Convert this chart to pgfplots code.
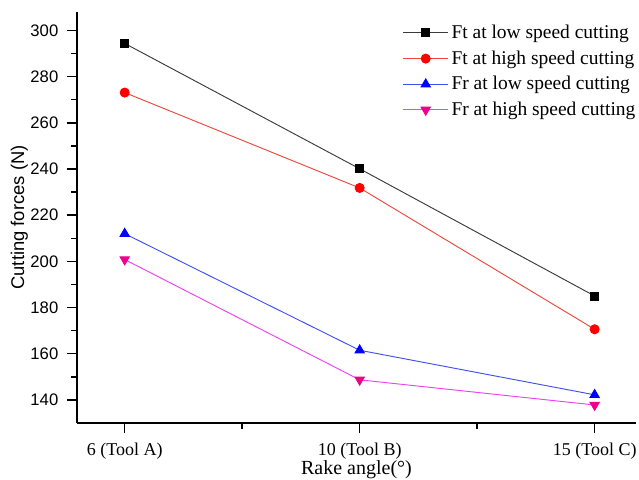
\documentclass[border=0pt]{standalone}
\usepackage{fontspec}
\setmainfont{Liberation Serif}
\newfontfamily\arial{Liberation Sans}
\usepackage{pgfplots}
\pgfplotsset{compat=1.18}

\definecolor{lnBlack}{HTML}{3A3A3A}
\definecolor{lnRed}{HTML}{F0463C}
\definecolor{lnBlue}{HTML}{4050F0}
\definecolor{lnMag}{HTML}{F040F0}

\begin{document}
\begin{tikzpicture}
\begin{axis}[
    scale only axis,
    width=419.25pt, height=308.25pt,
    xmin=-0.203, xmax=2.176,
    ymin=130, ymax=308,
    axis x line*=bottom, axis y line*=left,
    axis line style={line width=1.2pt, black},
    every tick/.style={line width=1.1pt, black},
    tick align=outside,
    major tick length=7.5pt, minor tick length=4.5pt,
    xtick={0,1,2},
    xticklabels={6 (Tool A),10 (Tool B),15 (Tool C)},
    minor x tick num=1,
    ytick={140,160,...,300},
    minor y tick num=1,
    /pgf/number format/assume math mode=true,
    xticklabel style={font=\fontsize{13.5}{15}\selectfont, yshift=-4pt},
    yticklabel style={font=\arial\fontsize{12.5}{14}\selectfont, xshift=-3pt},
    xlabel={Rake angle(°)},
    xlabel style={font=\fontsize{15}{17}\selectfont, yshift=6pt},
    ylabel={Cutting forces (N)},
    ylabel style={font=\arial\fontsize{13.8}{15}\selectfont, yshift=-5pt},
    legend style={at={(0.582,0.975)}, anchor=north west, draw=none, fill=none,
                  font=\fontsize{14.6}{17}\selectfont, row sep=3.6pt,
                  inner sep=0pt},
    legend cell align=left,
    legend image code/.code={
        \draw[mark repeat=2,mark phase=2] plot coordinates {(0pt,0pt) (17pt,0pt) (34pt,0pt)};},
    clip=false,
]
\addplot[color=lnBlack, line width=0.7pt, mark=square*, mark size=3pt,
         mark options={fill=black, draw=black}]
  coordinates {(0,294.4) (1,240.1) (2,185.0)};
\addplot[color=lnRed, line width=0.7pt, mark=*, mark size=3.4pt,
         mark options={fill=red, draw=red}]
  coordinates {(0,273.1) (1,231.8) (2,170.6)};
\addplot[color=lnBlue, line width=0.7pt, mark=triangle*, mark size=4pt,
         mark options={fill=blue, draw=blue}]
  coordinates {(0,212.0) (1,161.5) (2,142.2)};
\addplot[color=lnMag, line width=0.7pt, mark=triangle*, mark size=4pt,
         mark options={fill=magenta, draw=magenta, rotate=180}]
  coordinates {(0,200.8) (1,148.7) (2,137.8)};
\legend{Ft at low speed cutting, Ft at high speed cutting,
        Fr at low speed cutting, Fr at high speed cutting}
\end{axis}
\pgfresetboundingbox
\path ([shift={(-57.75pt,-42pt)}]current axis.south west)
      rectangle ([shift={(2.25pt,9pt)}]current axis.north east);
\end{tikzpicture}
\end{document}
